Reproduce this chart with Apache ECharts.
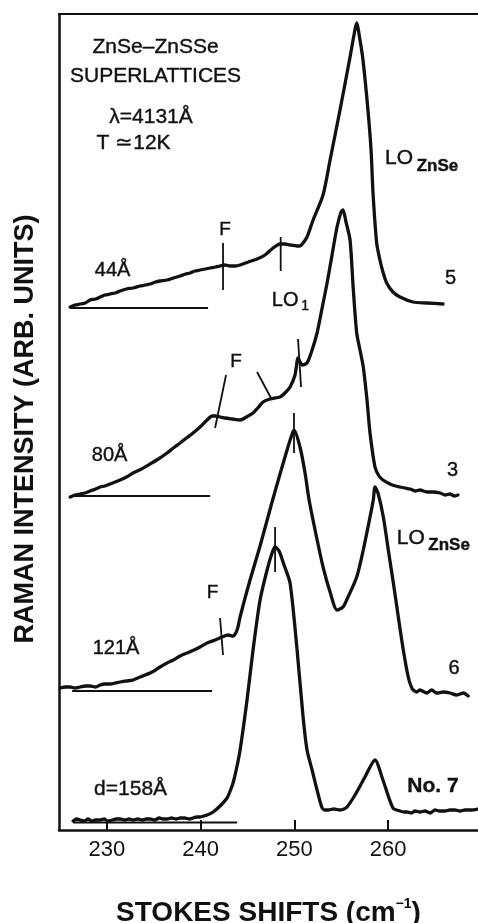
<!DOCTYPE html>
<html>
<head>
<meta charset="utf-8">
<title>ZnSe-ZnSSe superlattices: Raman spectra</title>
<script src="https://cdn.jsdelivr.net/npm/echarts@6/dist/echarts.min.js"></script>
<style>
  html, body { margin: 0; padding: 0; background: #fff; }
  #chart { width: 478px; height: 923px; }
</style>
</head>
<body>
<div id="chart"></div>
<script>
// Raman shift axis (cm^-1) and offset intensity scale (arbitrary units)
const shiftTicks = [230, 240, 250, 260];
const shiftRange = [224.9, 269.6];
const intensityRange = [0, 816];

// Spectra, [shift, intensity] — vertically offset traces
const spec44 = [
  [226.09,523],[226.6,525],[227.15,526],[227.7,527],[228.22,530],[228.8,531],[229.29,533],[229.8,535],
  [230.35,536],[230.9,537],[231.42,539],[232.1,541],[232.8,542],[233.55,544],[234.1,545],[234.62,546],
  [235.2,548],[235.68,549],[236.43,550],[237.1,552],[237.82,554],[238.4,556],[238.88,557],[239.4,559],
  [239.95,560],[240.5,561],[241.02,562],[241.6,563],[242.08,564],[242.6,565],[243.15,564],[243.7,564],
  [244.22,565],[245.1,568],[246.03,571],[246.88,575],[247.74,582],[248.48,586],[249.02,586],[249.55,585],
  [250.3,584],[250.61,584],[250.94,587],[251.36,593],[252.01,610],[253.07,635],[253.82,670],[254.88,720],
  [255.95,773],[256.37,795],[256.65,807],[257.01,790],[257.33,770],[257.86,720],[258.19,680],[258.4,637],
  [258.79,587],[259.14,570],[259.46,558],[259.86,547],[260.53,538],[261.28,533],[262.67,528],[264.16,527],
  [265.87,526]
];
const spec80 = [
  [226.09,333],[226.6,335],[227.15,336],[227.7,337],[228.22,339],[228.8,341],[229.29,343],[229.8,344],
  [230.35,346],[230.9,348],[231.42,350],[232.1,353],[232.8,357],[233.7,361],[234.62,366],[235.5,371],
  [236.43,377],[237.1,382],[237.82,387],[238.5,392],[239.2,397],[239.95,403],[240.7,410],[241.23,414],
  [241.55,414],[242.1,413],[242.62,412],[243.4,411],[244.22,410],[244.9,413],[245.6,417],[246.1,422],
  [246.67,428],[247.42,431],[248.48,433],[249.0,437],[249.55,443],[250.08,455],[250.4,472],[250.62,468],
  [250.83,465],[251.36,467],[251.9,480],[252.43,497],[252.97,522],[253.5,547],[254.03,575],[254.56,603],
  [254.99,618],[255.2,620],[255.52,608],[255.95,590],[256.3,540],[256.66,497],[257.01,480],[257.36,463],
  [257.76,430],[258.08,397],[258.61,363],[259.04,354],[259.46,350],[260.21,346],[260.8,344],[261.28,343],
  [261.8,342],[262.35,341],[262.9,339],[263.41,340],[264.16,338],[264.8,338],[265.55,337],[266.1,335],
  [266.61,336],[267.1,334],[267.46,335]
];
const spec121 = [
  [225.02,142],[225.6,143],[226.09,143],[226.6,142],[227.15,143],[227.7,144],[228.22,144],[228.8,143],
  [229.29,145],[229.8,146],[230.35,146],[230.9,147],[231.42,148],[232.1,149],[232.8,150],[233.55,153],
  [234.1,155],[234.62,157],[235.2,160],[235.68,163],[236.43,167],[237.1,170],[237.82,174],[238.56,177],
  [239.3,180],[239.95,183],[240.7,187],[241.55,190],[242.3,193],[242.94,195],[243.47,194],[243.9,200],
  [244.22,213],[244.75,232],[245.28,250],[246.35,284],[247.63,328],[248.48,356],[249.23,380],[249.66,393],
  [249.97,400],[250.61,383],[251.15,357],[251.58,330],[252.33,295],[253.07,263],[253.82,238],[254.56,220],
  [255.2,223],[255.59,230],[256.66,253],[257.36,280],[258.08,313],[258.43,330],[258.61,343],[258.93,337],
  [259.5,313],[260.03,280],[260.57,247],[261.1,213],[261.63,180],[262.16,153],[262.6,141],[263.06,138],
  [263.41,140],[264.13,137],[264.66,140],[265.19,137],[265.9,138],[266.61,137],[267.33,135],[268.03,137],
  [268.56,134]
];
const spec158 = [
  [226.41,9],[226.8,11],[227.15,10],[227.6,9],[228.0,11],[228.4,9],[228.8,10],[229.29,10],[229.7,11],
  [230.1,9],[230.6,10],[231.0,11],[231.42,11],[231.9,10],[232.4,11],[232.8,10],[233.3,11],[233.8,10],
  [234.2,11],[234.62,11],[235.1,10],[235.6,12],[236.0,11],[236.43,11],[236.9,12],[237.4,11],[237.82,12],
  [238.3,12],[238.8,11],[239.2,12],[239.6,13],[239.95,13],[240.35,14],[240.7,15],[241.34,18],[242.08,24],
  [242.83,32],[243.2,40],[243.47,47],[243.85,62],[244.22,80],[244.96,130],[245.6,180],[246.35,230],
  [247.1,260],[247.63,277],[247.95,283],[248.38,279],[248.91,265],[249.55,247],[250.3,180],[250.94,113],
  [251.36,80],[251.9,60],[252.43,40],[252.97,22],[253.3,20],[253.61,20],[254.2,21],[254.88,20],[255.3,21],
  [255.63,23],[256.48,35],[257.54,53],[258.61,70],[259.46,50],[260.53,22],[261.28,19],[261.7,18],
  [262.02,18],[262.5,17],[262.88,19],[263.4,18],[263.94,19],[264.5,17],[265.01,20],[265.5,19],[266.08,19],
  [266.6,20],[267.14,20],[267.7,19],[268.21,20],[268.9,20],[269.6,21]
];

// Zero-intensity reference lines under each trace
const base44 = [[226.09,522],[240.8,522]];
const base80 = [[226.09,334],[241.02,334]];
const base121 = [[226.3,139],[241.23,139]];
const base158 = [[226.41,7.5],[243.9,7.5]];

// Short marker strokes for the F, LO1 and peak positions
const markers = [
  [[242.4,540],[242.4,587]],
  [[248.55,559],[248.55,593]],
  [[241.55,402],[242.72,455]],
  [[246.03,458],[247.63,430]],
  [[250.4,491],[250.72,443]],
  [[242.08,212],[242.4,175]],
  [[249.97,377],[249.97,417]],
  [[247.95,258],[247.95,303]]
];

const INK = '#111';
const FONT = '"Liberation Sans", Arial, Helvetica, sans-serif';

// Text annotations anchored in data coordinates
const notes = [
  { text: 'ZnSe–ZnSSe', at: [235.2, 783], size: 21 },
  { text: 'SUPERLATTICES', at: [235.2, 754], size: 21 },
  { text: 'λ=4131Å', at: [234.72, 713], size: 21 },
  { text: 'T ≃12K', at: [232.86, 687], size: 21 },
  { text: '44Å', at: [230.62, 560], size: 20 },
  { text: '80Å', at: [230.3, 375], size: 20 },
  { text: '121Å', at: [230.99, 182], size: 20 },
  { text: 'd=158Å', at: [232.54, 41], size: 21 },
  { text: 'F', at: [242.62, 600], size: 19 },
  { text: 'F', at: [243.8, 468], size: 19 },
  { text: 'F', at: [241.28, 237], size: 19 },
  { text: '5', at: [266.66, 552], size: 20 },
  { text: '3', at: [266.88, 360], size: 20 },
  { text: '6', at: [267.04, 162], size: 20 },
  { text: 'No. 7', at: [264.8, 44], size: 21, bold: true },
  { text: 'LO', at: [259.68, 672], size: 21, left: true },
  { text: 'ZnSe', at: [263.06, 664], size: 17, bold: true, left: true },
  { text: 'LO', at: [260.93, 292], size: 21, left: true },
  { text: 'ZnSe', at: [264.3, 285], size: 17, bold: true, left: true },
  { text: 'LO', at: [247.6, 530], size: 20, left: true },
  { text: '1', at: [250.75, 524], size: 14, left: true }
];

const spectra = [spec44, spec80, spec121, spec158];
const baselines = [base44, base80, base121, base158];

const series = [];
spectra.forEach(function (d) {
  series.push({
    type: 'line', data: d, showSymbol: false, smooth: 0.25, silent: true,
    lineStyle: { color: INK, width: 3.3, join: 'round', cap: 'round' }
  });
});
baselines.forEach(function (d) {
  series.push({
    type: 'line', data: d, showSymbol: false, silent: true,
    lineStyle: { color: INK, width: 2 }
  });
});
markers.forEach(function (d) {
  series.push({
    type: 'line', data: d, showSymbol: false, silent: true,
    lineStyle: { color: INK, width: 1.8 }
  });
});

const chart = echarts.init(document.getElementById('chart'), null, { renderer: 'canvas' });
chart.setOption({
  animation: false,
  backgroundColor: '#fff',
  textStyle: { fontFamily: FONT },
  grid: { left: 59, right: 0, top: 14, bottom: 93, containLabel: false, outerBoundsMode: 'none' },
  xAxis: [
    {
      type: 'value', min: shiftRange[0], max: shiftRange[1], position: 'bottom',
      axisLine: { show: true, onZero: false, lineStyle: { color: INK, width: 2.5 } },
      axisTick: { show: true, inside: true, length: 10, customValues: shiftTicks, lineStyle: { color: INK, width: 2 } },
      axisLabel: { show: true, customValues: shiftTicks, margin: 9, fontSize: 22, color: INK, fontFamily: FONT },
      splitLine: { show: false },
      name: '{m|STOKES SHIFTS (cm}{s|−1}{m|)}',
      nameLocation: 'middle', nameGap: 67,
      nameTextStyle: {
        rich: {
          m: { fontSize: 28, fontWeight: 'bold', color: INK, fontFamily: FONT, lineHeight: 30, verticalAlign: 'bottom' },
          s: { fontSize: 14, fontWeight: 'bold', color: INK, fontFamily: FONT, lineHeight: 14, verticalAlign: 'top' }
        }
      }
    },
    {
      type: 'value', min: shiftRange[0], max: shiftRange[1], position: 'top',
      axisLine: { show: true, onZero: false, lineStyle: { color: INK, width: 2 } },
      axisTick: { show: false }, axisLabel: { show: false }, splitLine: { show: false }
    }
  ],
  yAxis: {
    type: 'value', min: intensityRange[0], max: intensityRange[1],
    axisLine: { show: true, onZero: false, lineStyle: { color: INK, width: 2.5 } },
    axisTick: { show: false }, axisLabel: { show: false }, splitLine: { show: false },
    name: 'RAMAN INTENSITY (ARB. UNITS)', nameLocation: 'middle', nameGap: 20,
    nameTextStyle: { fontSize: 27, fontWeight: 'bold', color: INK, fontFamily: FONT, padding: [0, 14, 0, 0] }
  },
  series: series
});

// Place the annotation texts through the axes' own scales
const texts = notes.map(function (n) {
  const p = chart.convertToPixel({ xAxisIndex: 0, yAxisIndex: 0 }, n.at);
  return {
    type: 'text', x: p[0], y: p[1], silent: true, z: 10,
    style: {
      text: n.text,
      fontSize: n.size, fontWeight: n.bold ? 'bold' : 'normal', fontFamily: FONT,
      fill: INK, stroke: INK, lineWidth: 0.4,
      align: n.left ? 'left' : 'center', verticalAlign: 'middle',
      textAlign: n.left ? 'left' : 'center', textVerticalAlign: 'middle'
    }
  };
});
chart.setOption({ graphic: texts });
</script>
</body>
</html>
